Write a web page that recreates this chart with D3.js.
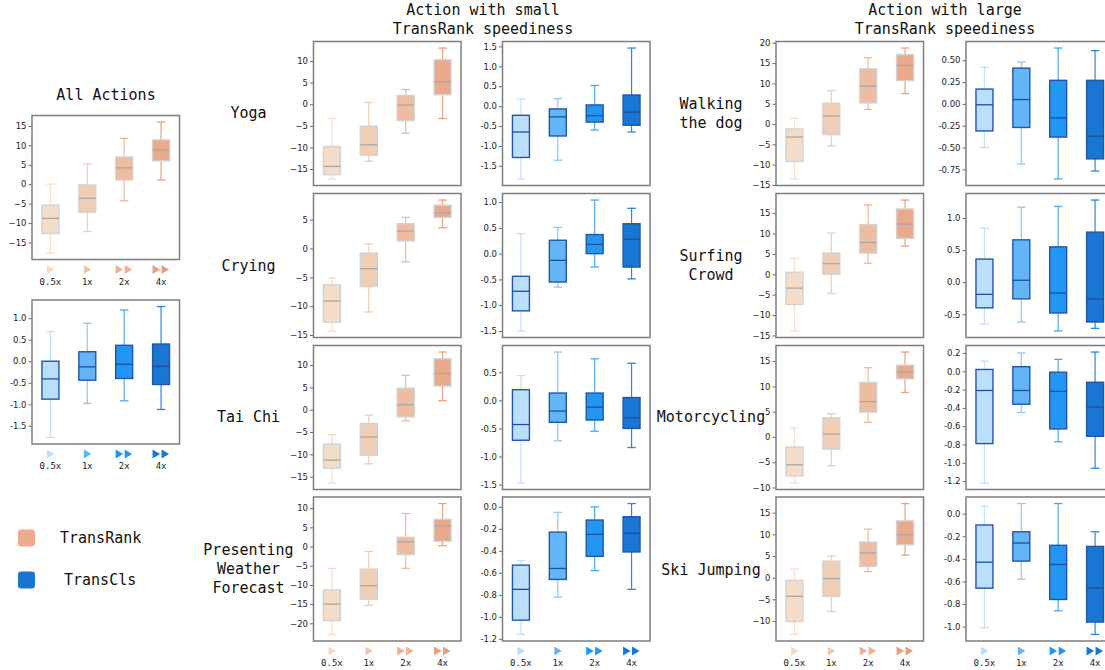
<!DOCTYPE html>
<html>
<head>
<meta charset="utf-8">
<script src="https://cdn.jsdelivr.net/npm/d3@7"></script>
<style>
  body { margin: 0; background: #fff; }
  svg { display: block; }
</style>
</head>
<body>
<svg id="fig" width="1105" height="670"></svg>
<script>
var speeds = ['0.5x', '1x', '2x', '4x'];

// every box is [low whisker, q1, median, q3, high whisker]
var allRank = [[-17.7, -12.7, -8.8, -5.4, 0.0], [-12.2, -7.2, -3.6, -0.2, 5.2], [-4.3, 1.1, 4.2, 7.0, 11.8], [1.1, 6.0, 8.8, 11.4, 16.0]];
var allCls = [[-1.77, -0.88, -0.41, 0.0, 0.69], [-0.98, -0.44, -0.13, 0.22, 0.88], [-0.92, -0.40, -0.07, 0.37, 1.19], [-1.12, -0.54, -0.12, 0.40, 1.27]];

var yogaRank = [[-17.3, -16.3, -14.4, -9.8, -3.3], [-13.2, -11.8, -9.4, -5.1, 0.4], [-6.7, -3.8, -0.2, 2.0, 3.4], [-3.3, 2.2, 5.2, 10.3, 13.0]];
var yogaCls = [[-1.83, -1.29, -0.65, -0.23, 0.18], [-1.36, -0.75, -0.27, -0.07, 0.19], [-0.60, -0.40, -0.24, 0.03, 0.52], [-0.65, -0.48, -0.15, 0.28, 1.46]];
var cryingRank = [[-14.3, -12.8, -9.1, -6.3, -5.1], [-11.0, -6.6, -3.5, -0.8, 0.8], [-2.3, 1.3, 3.0, 4.3, 5.4], [3.6, 5.4, 6.2, 7.5, 8.4]];
var cryingCls = [[-1.50, -1.11, -0.73, -0.44, 0.39], [-0.65, -0.55, -0.13, 0.26, 0.51], [-0.26, 0.0, 0.18, 0.37, 1.04], [-0.49, -0.26, 0.28, 0.58, 0.88]];
var taichiRank = [[-16.4, -13.1, -11.3, -7.7, -5.6], [-12.1, -10.2, -6.1, -3.1, -1.2], [-2.5, -1.6, 1.1, 4.8, 7.7], [2.0, 5.3, 8.1, 11.4, 12.9]];
var taichiCls = [[-1.47, -0.71, -0.43, 0.19, 0.44], [-0.72, -0.39, -0.19, 0.13, 0.86], [-0.55, -0.35, -0.12, 0.13, 0.74], [-0.84, -0.50, -0.31, 0.05, 0.66]];
var weatherRank = [[-22.9, -19.3, -15.0, -11.3, -5.7], [-15.3, -13.7, -10.2, -5.9, -1.3], [-5.7, -2.1, 1.2, 2.4, 8.6], [0.2, 1.4, 5.4, 7.1, 11.2]];
var weatherCls = [[-1.16, -1.03, -0.75, -0.53, -0.49], [-0.82, -0.66, -0.56, -0.23, -0.05], [-0.58, -0.45, -0.25, -0.12, 0.0], [-0.75, -0.41, -0.24, -0.09, 0.03]];

var walkingRank = [[-13.5, -9.2, -3.2, -1.2, 1.5], [-5.4, -2.6, 2.0, 5.1, 8.2], [3.6, 5.2, 9.3, 13.6, 16.3], [7.5, 10.7, 14.4, 17.1, 18.7]];
var walkingCls = [[-0.50, -0.31, -0.01, 0.17, 0.42], [-0.69, -0.27, 0.05, 0.41, 0.48], [-0.86, -0.38, -0.16, 0.27, 0.64], [-0.77, -0.63, -0.37, 0.27, 0.61]];
var surfingRank = [[-13.9, -7.4, -3.4, 0.5, 3.9], [-4.7, 0.0, 2.6, 5.2, 10.1], [2.7, 5.2, 7.8, 12.2, 17.0], [6.9, 8.8, 12.3, 16.0, 18.2]];
var surfingCls = [[-0.65, -0.40, -0.19, 0.36, 0.84], [-0.62, -0.26, 0.03, 0.66, 1.17], [-0.76, -0.48, -0.17, 0.55, 1.18], [-0.72, -0.62, -0.26, 0.78, 1.28]];
var motoRank = [[-9.1, -7.7, -5.5, -2.0, 1.8], [-5.7, -2.4, 0.6, 3.8, 4.6], [2.9, 4.9, 7.0, 10.8, 13.7], [8.8, 11.5, 12.8, 14.2, 16.8]];
var motoCls = [[-1.22, -0.79, -0.21, 0.02, 0.11], [-0.45, -0.36, -0.21, 0.05, 0.20], [-0.77, -0.63, -0.22, -0.01, 0.13], [-1.06, -0.71, -0.39, -0.12, 0.21]];
var skiRank = [[-13.1, -10.1, -4.3, -0.6, 2.0], [-7.8, -4.3, -0.2, 3.8, 5.0], [1.4, 2.6, 5.7, 8.2, 11.2], [5.2, 7.6, 9.9, 13.1, 17.1]];
var skiCls = [[-1.01, -0.66, -0.43, -0.10, 0.065], [-0.58, -0.42, -0.26, -0.16, 0.09], [-0.86, -0.76, -0.45, -0.28, 0.09], [-1.07, -0.96, -0.66, -0.29, -0.16]];

// tick values of each panel
var allRankTicks = [-15, -10, -5, 0, 5, 10, 15];
var allClsTicks = [-1.5, -1, -0.5, 0, 0.5, 1];
var yogaRankTicks = [-15, -10, -5, 0, 5, 10];
var yogaClsTicks = [-1.5, -1, -0.5, 0, 0.5, 1, 1.5];
var cryingRankTicks = [-15, -10, -5, 0, 5];
var cryingClsTicks = [-1.5, -1, -0.5, 0, 0.5, 1];
var taichiRankTicks = [-15, -10, -5, 0, 5, 10];
var taichiClsTicks = [-1.5, -1, -0.5, 0, 0.5];
var weatherRankTicks = [-20, -15, -10, -5, 0, 5, 10];
var weatherClsTicks = [-1.2, -1, -0.8, -0.6, -0.4, -0.2, 0];
var walkingRankTicks = [-15, -10, -5, 0, 5, 10, 15, 20];
var walkingClsTicks = [-0.75, -0.5, -0.25, 0, 0.25, 0.5];
var surfingRankTicks = [-15, -10, -5, 0, 5, 10, 15];
var surfingClsTicks = [-0.5, 0, 0.5, 1];
var motoRankTicks = [-10, -5, 0, 5, 10, 15];
var motoClsTicks = [-1.2, -1, -0.8, -0.6, -0.4, -0.2, 0, 0.2];
var skiRankTicks = [-10, -5, 0, 5, 10, 15];
var skiClsTicks = [-1, -0.8, -0.6, -0.4, -0.2, 0];

var smallActions = [['Yoga'], ['Crying'], ['Tai Chi'], ['Presenting', 'Weather', 'Forecast']];
var largeActions = [['Walking', 'the dog'], ['Surfing', 'Crowd'], ['Motorcycling'], ['Ski Jumping']];
var legendNames = ['TransRank', 'TransCls'];

// styles
var rankFill = ['#f3ddc8', '#f0cdb5', '#eebda1', '#eaa98a'];
var rankWhisker = ['#f5dccb', '#f1cbb5', '#edb89c', '#e9a283'];
var clsFill = ['#bbdefb', '#64b5f6', '#2196f3', '#1976d2'];
var clsWhisker = ['#c2e0fa', '#8ec8f5', '#4aa8f2', '#2a85de'];
var styles = {
    rank: { fill: rankFill, whisker: rankWhisker, edge: '#d2d2d2', median: '#a8a8a8', icon: ['#f5d9c5', '#f0c6ab', '#edb193', '#e99e7e'] },
    cls: { fill: clsFill, whisker: clsWhisker, edge: '#2356a6', median: '#1d4f9c', icon: ['#bbdefb', '#64b5f6', '#2196f3', '#1976d2'] }
};
var monoFont = "'DejaVu Sans Mono', monospace";
var tickFont = "'DejaVu Sans', sans-serif";

var panelW = 147.5;
var panelH = 144;

var svg = d3.select('#fig');

var plainLocale = d3.formatLocale({ decimal: '.', thousands: ',', grouping: [3], currency: ['', ''], minus: '-' });

var panels = [
    { x: 32, y: 115.5, data: allRank, ticks: allRankTicks, kind: 'rank', fmt: d3.format('d'), labels: true },
    { x: 32, y: 300, data: allCls, ticks: allClsTicks, kind: 'cls', fmt: plainLocale.format('.1f'), labels: true },

    { x: 313.5, y: 41.5, data: yogaRank, ticks: yogaRankTicks, kind: 'rank', fmt: d3.format('d') },
    { x: 502.5, y: 41.5, data: yogaCls, ticks: yogaClsTicks, kind: 'cls', fmt: plainLocale.format('.1f') },
    { x: 313.5, y: 193.5, data: cryingRank, ticks: cryingRankTicks, kind: 'rank', fmt: d3.format('d') },
    { x: 502.5, y: 193.5, data: cryingCls, ticks: cryingClsTicks, kind: 'cls', fmt: plainLocale.format('.1f') },
    { x: 313.5, y: 345.5, data: taichiRank, ticks: taichiRankTicks, kind: 'rank', fmt: d3.format('d') },
    { x: 502.5, y: 345.5, data: taichiCls, ticks: taichiClsTicks, kind: 'cls', fmt: plainLocale.format('.1f') },
    { x: 313.5, y: 497, data: weatherRank, ticks: weatherRankTicks, kind: 'rank', fmt: d3.format('d'), labels: true },
    { x: 502.5, y: 497, data: weatherCls, ticks: weatherClsTicks, kind: 'cls', fmt: plainLocale.format('.1f'), labels: true },

    { x: 776, y: 41.5, data: walkingRank, ticks: walkingRankTicks, kind: 'rank', fmt: d3.format('d') },
    { x: 966, y: 41.5, data: walkingCls, ticks: walkingClsTicks, kind: 'cls', fmt: plainLocale.format('.2f') },
    { x: 776, y: 193.5, data: surfingRank, ticks: surfingRankTicks, kind: 'rank', fmt: d3.format('d') },
    { x: 966, y: 193.5, data: surfingCls, ticks: surfingClsTicks, kind: 'cls', fmt: plainLocale.format('.1f') },
    { x: 776, y: 345.5, data: motoRank, ticks: motoRankTicks, kind: 'rank', fmt: d3.format('d') },
    { x: 966, y: 345.5, data: motoCls, ticks: motoClsTicks, kind: 'cls', fmt: plainLocale.format('.1f') },
    { x: 776, y: 497, data: skiRank, ticks: skiRankTicks, kind: 'rank', fmt: d3.format('d'), labels: true },
    { x: 966, y: 497, data: skiCls, ticks: skiClsTicks, kind: 'cls', fmt: plainLocale.format('.1f'), labels: true }
];

panels.forEach(drawPanel);

// titles and row names
drawText(106, 95, ['All Actions']);
drawText(483, 10, ['Action with small', 'TransRank speediness']);
drawText(945, 10, ['Action with large', 'TransRank speediness']);

var rowCenters = [113, 266, 417, 569];
smallActions.forEach(function(lines, i) {
    drawText(248.5, rowCenters[i] - (lines.length - 1) * 9.5, lines);
});
var largeRowCenters = [113, 265.5, 417, 570];
largeActions.forEach(function(lines, i) {
    drawText(711, largeRowCenters[i] - (lines.length - 1) * 9.5, lines);
});

// legend
var legend = svg.append('g');
legendNames.forEach(function(name, i) {
    var ly = 538 + i * 42;
    legend.append('rect')
        .attr('x', 18).attr('y', ly - 8.5)
        .attr('width', 17).attr('height', 17)
        .attr('rx', 3)
        .attr('fill', i == 0 ? '#edab8e' : '#1a74d2');
    legend.append('text')
        .attr('x', i == 0 ? 60 : 64).attr('y', ly)
        .attr('dy', '0.35em')
        .style('font-family', monoFont)
        .style('font-size', '15px')
        .attr('fill', '#111')
        .text(name);
});


function drawText(cx, cy, lines) {
    var t = svg.append('text')
        .attr('text-anchor', 'middle')
        .style('font-family', monoFont)
        .style('font-size', '15px')
        .attr('fill', '#111');
    lines.forEach(function(line, i) {
        t.append('tspan')
            .attr('x', cx)
            .attr('y', cy + i * 19)
            .attr('dy', '0.35em')
            .text(line);
    });
}

function drawPanel(p) {
    var st = styles[p.kind];
    var lo = d3.min(p.data, function(d) { return d[0]; });
    var hi = d3.max(p.data, function(d) { return d[4]; });
    var pad = (hi - lo) * 0.05;

    var y = d3.scaleLinear()
        .domain([lo - pad, hi + pad])
        .range([panelH, 0]);
    var x = d3.scaleBand()
        .domain(speeds)
        .range([0, panelW]);

    var g = svg.append('g')
        .attr('transform', 'translate(' + p.x + ',' + p.y + ')');

    var axis = g.append('g')
        .call(d3.axisLeft(y).tickValues(p.ticks).tickSize(3.5).tickPadding(2).tickFormat(p.fmt));
    axis.select('.domain').remove();
    axis.selectAll('line').attr('stroke', '#444').attr('stroke-width', 0.8);
    axis.selectAll('text')
        .style('font-family', tickFont)
        .style('font-size', '8.5px')
        .attr('fill', '#222');

    var bw = x.bandwidth() * 0.46;
    var cw = bw / 2;

    var boxes = g.selectAll('.box')
        .data(p.data)
        .enter()
        .append('g')
        .attr('class', 'box')
        .attr('transform', function(d, i) { return 'translate(' + (x(speeds[i]) + x.bandwidth() / 2) + ',0)'; });

    // whiskers
    boxes.append('line')
        .attr('y1', function(d) { return y(d[0]); })
        .attr('y2', function(d) { return y(d[1]); })
        .attr('stroke', function(d, i) { return st.whisker[i]; })
        .attr('stroke-width', 1.2);
    boxes.append('line')
        .attr('y1', function(d) { return y(d[3]); })
        .attr('y2', function(d) { return y(d[4]); })
        .attr('stroke', function(d, i) { return st.whisker[i]; })
        .attr('stroke-width', 1.2);
    boxes.append('line')
        .attr('x1', -cw / 2).attr('x2', cw / 2)
        .attr('y1', function(d) { return y(d[0]); })
        .attr('y2', function(d) { return y(d[0]); })
        .attr('stroke', function(d, i) { return st.whisker[i]; })
        .attr('stroke-width', 1.3);
    boxes.append('line')
        .attr('x1', -cw / 2).attr('x2', cw / 2)
        .attr('y1', function(d) { return y(d[4]); })
        .attr('y2', function(d) { return y(d[4]); })
        .attr('stroke', function(d, i) { return st.whisker[i]; })
        .attr('stroke-width', 1.3);

    // box
    boxes.append('rect')
        .attr('x', -bw / 2)
        .attr('width', bw)
        .attr('y', function(d) { return y(d[3]); })
        .attr('height', function(d) { return y(d[1]) - y(d[3]); })
        .attr('fill', function(d, i) { return st.fill[i]; })
        .attr('stroke', st.edge)
        .attr('stroke-width', 1.4);

    // median
    boxes.append('line')
        .attr('x1', -bw / 2).attr('x2', bw / 2)
        .attr('y1', function(d) { return y(d[2]); })
        .attr('y2', function(d) { return y(d[2]); })
        .attr('stroke', st.median)
        .attr('stroke-width', 1.3);

    // frame
    g.append('rect')
        .attr('width', panelW)
        .attr('height', panelH)
        .attr('fill', 'none')
        .attr('stroke', '#7d7d7d')
        .attr('stroke-width', 1.5);

    if (p.labels) {
        speeds.forEach(function(s, i) {
            var cx = x(s) + x.bandwidth() / 2;
            drawIcon(g, cx, panelH + 10, i, st.icon[i]);
            g.append('text')
                .attr('x', cx)
                .attr('y', panelH + 22)
                .attr('dy', '0.35em')
                .attr('text-anchor', 'middle')
                .style('font-family', monoFont)
                .style('font-size', '9px')
                .attr('fill', '#222')
                .text(s);
        });
    }
}

function drawIcon(g, cx, cy, i, color) {
    var tri = function(x0) {
        return [[x0, cy - 4.5], [x0 + 7.5, cy], [x0, cy + 4.5]].join(' ');
    };
    if (i < 2) {
        g.append('polygon').attr('points', tri(cx - 3.5)).attr('fill', color);
    } else {
        g.append('polygon').attr('points', tri(cx - 8.5)).attr('fill', color);
        g.append('polygon').attr('points', tri(cx + 0.5)).attr('fill', color);
    }
}
</script>
</body>
</html>
